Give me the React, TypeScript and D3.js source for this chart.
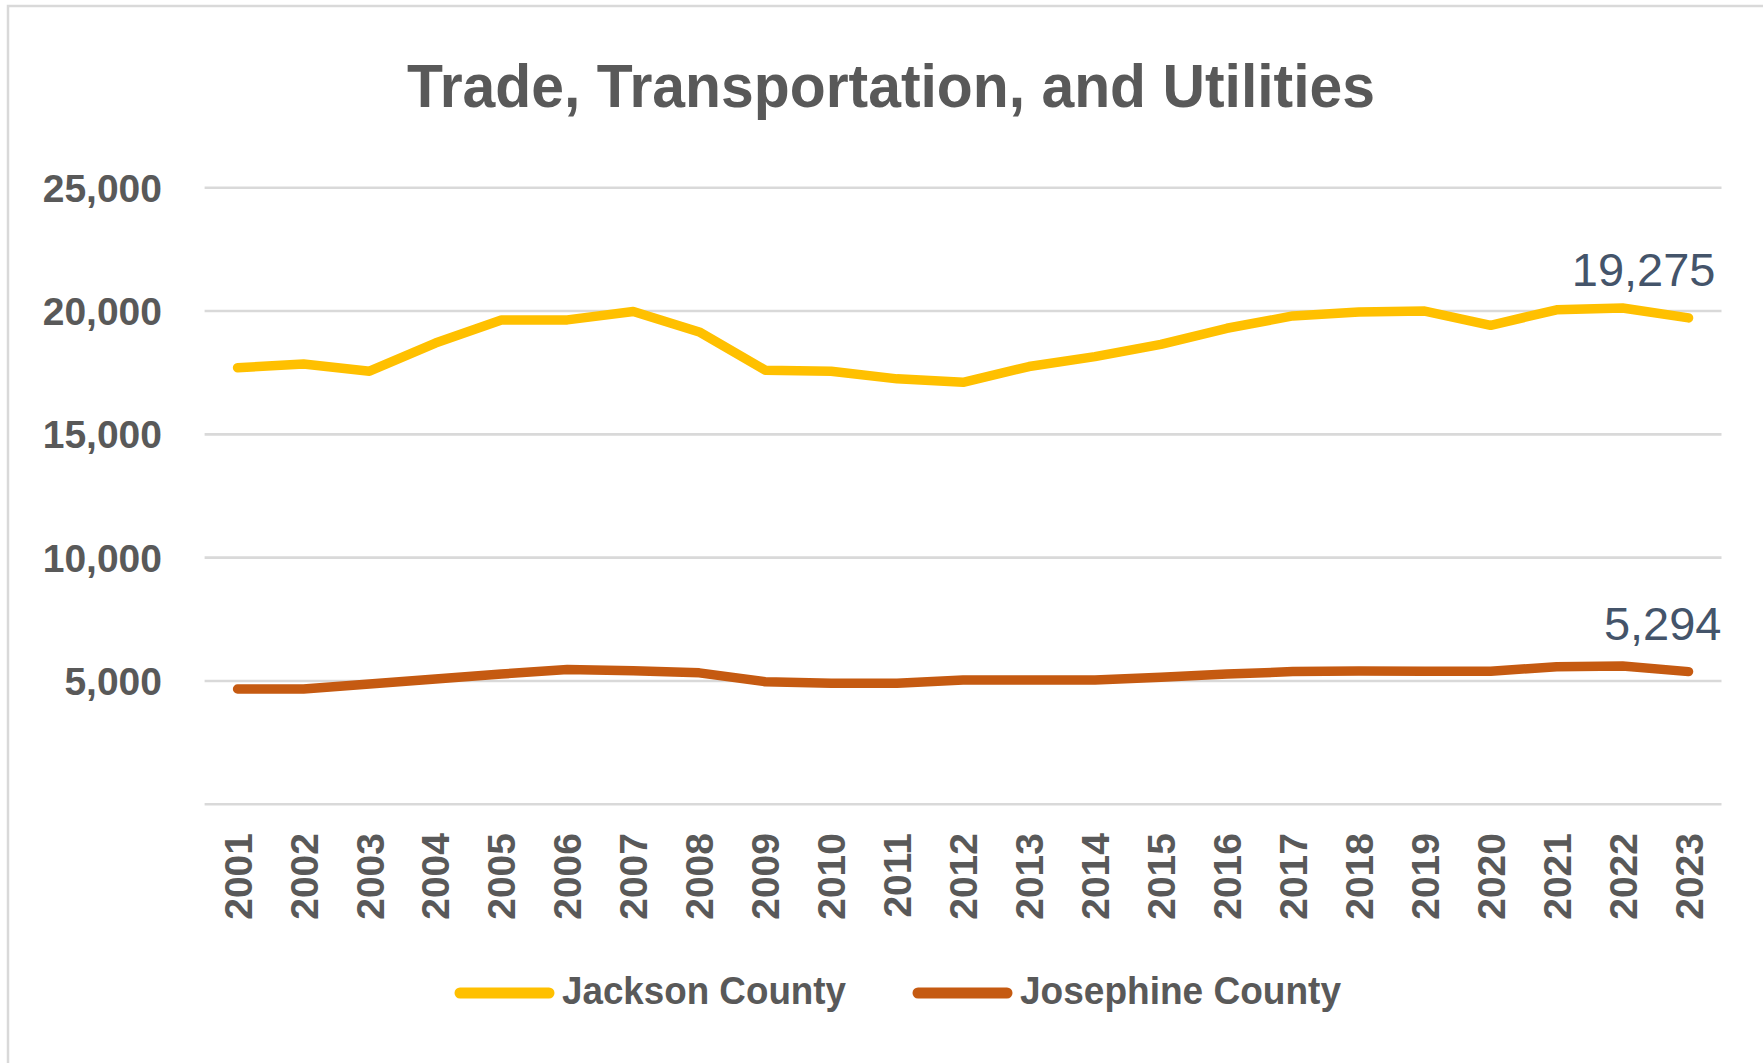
import React, { useRef, useEffect } from 'react';
import * as d3 from 'd3';

const years = [
  '2001', '2002', '2003', '2004', '2005', '2006', '2007', '2008', '2009', '2010', '2011', '2012',
  '2013', '2014', '2015', '2016', '2017', '2018', '2019', '2020', '2021', '2022', '2023',
];
const jackson = [
  17700, 17850, 17560, 18700, 19640, 19640, 19980, 19150, 17600, 17560, 17250, 17110,
  17750, 18150, 18650, 19300, 19800, 19960, 20000, 19420, 20050, 20120, 19720,
];
const josephine = [
  4675, 4675, 4880, 5080, 5280, 5470, 5410, 5330, 4970, 4905, 4905, 5040,
  5040, 5040, 5150, 5280, 5380, 5400, 5390, 5390, 5580, 5610, 5380,
];
const seriesNames = ['Jackson County', 'Josephine County'];
const seriesColors = ['#FFC000', '#C55A11'];
const endLabels = ['19,275', '5,294'];
const yTicks = [5000, 10000, 15000, 20000, 25000];
const chartTitle = 'Trade, Transportation, and Utilities';

const W = 1763;
const H = 1063;
const FONT = '"Liberation Sans", Arial, sans-serif';
const GREY = '#595959';

const App = () => {
  const ref = useRef<SVGSVGElement>(null);

  useEffect(() => {
    const svg = d3.select(ref.current);
    svg.selectAll('*').remove();

    svg.append('rect').attr('width', W).attr('height', H).attr('fill', '#fff');
    // chart frame, runs off the right/bottom edge like the screenshot
    svg.append('rect')
      .attr('x', 8).attr('y', 6)
      .attr('width', W + 20).attr('height', H + 20)
      .attr('fill', '#fff')
      .attr('stroke', '#d9d9d9')
      .attr('stroke-width', 2.5);

    const x = d3.scaleBand().domain(years).range([204.6, 1721.5]).padding(0);
    const cx = (d: string) => (x(d) as number) + x.bandwidth() / 2;
    const y = d3.scaleLinear().domain([0, 25000]).range([804.3, 187.7]);

    svg.append('text')
      .attr('x', 891).attr('y', 107)
      .attr('text-anchor', 'middle')
      .attr('font-family', FONT)
      .attr('font-weight', 'bold')
      .attr('font-size', 62)
      .attr('fill', GREY)
      .attr('textLength', 968)
      .attr('lengthAdjust', 'spacingAndGlyphs')
      .text(chartTitle);

    // gridlines (0 line included, no label)
    svg.append('g')
      .selectAll('line')
      .data([0, ...yTicks])
      .join('line')
      .attr('x1', 204.6).attr('x2', 1721.5)
      .attr('y1', (d) => y(d)).attr('y2', (d) => y(d))
      .attr('stroke', '#d9d9d9')
      .attr('stroke-width', 2.6);

    svg.append('g')
      .selectAll('text')
      .data(yTicks)
      .join('text')
      .attr('x', 162)
      .attr('y', (d) => y(d))
      .attr('dy', '0.36em')
      .attr('text-anchor', 'end')
      .attr('font-family', FONT)
      .attr('font-weight', 'bold')
      .attr('font-size', 39)
      .attr('fill', GREY)
      .text((d) => d3.format(',')(d));

    svg.append('g')
      .selectAll('text')
      .data(years)
      .join('text')
      .attr('transform', (d) => `translate(${cx(d)},833) rotate(-90)`)
      .attr('dy', '0.36em')
      .attr('text-anchor', 'end')
      .attr('font-family', FONT)
      .attr('font-weight', 'bold')
      .attr('font-size', 39)
      .attr('fill', GREY)
      .text((d) => d);

    const line = d3.line<number>()
      .x((_, i) => cx(years[i]))
      .y((d) => y(d));

    const labelDx = [27, 33];
    [jackson, josephine].forEach((vals, i) => {
      svg.append('path')
        .attr('d', line(vals))
        .attr('fill', 'none')
        .attr('stroke', seriesColors[i])
        .attr('stroke-width', 9.5)
        .attr('stroke-linejoin', 'round')
        .attr('stroke-linecap', 'round');

      const last = vals[vals.length - 1];
      svg.append('text')
        .attr('x', cx(years[years.length - 1]) + labelDx[i])
        .attr('y', y(last) - 32)
        .attr('text-anchor', 'end')
        .attr('font-family', FONT)
        .attr('font-size', 47)
        .attr('fill', '#44546A')
        .text(endLabels[i]);
    });

    // legend
    const legendX = [460, 918];
    const legendW = [284, 321];
    const legend = svg.append('g');
    seriesNames.forEach((name, i) => {
      legend.append('line')
        .attr('x1', legendX[i]).attr('x2', legendX[i] + 89)
        .attr('y1', 993).attr('y2', 993)
        .attr('stroke', seriesColors[i])
        .attr('stroke-width', 11)
        .attr('stroke-linecap', 'round');
      legend.append('text')
        .attr('x', legendX[i] + 102)
        .attr('y', 1004)
        .attr('font-family', FONT)
        .attr('font-weight', 'bold')
        .attr('font-size', 38)
        .attr('fill', GREY)
        .attr('textLength', legendW[i])
        .attr('lengthAdjust', 'spacingAndGlyphs')
        .text(name);
    });

    return () => {
      d3.select(ref.current).selectAll('*').remove();
    };
  }, []);

  return (
    <svg
      ref={ref}
      width={W}
      height={H}
      style={{ position: 'absolute', left: 0, top: 0 }}
    ></svg>
  );
};

export default App;
